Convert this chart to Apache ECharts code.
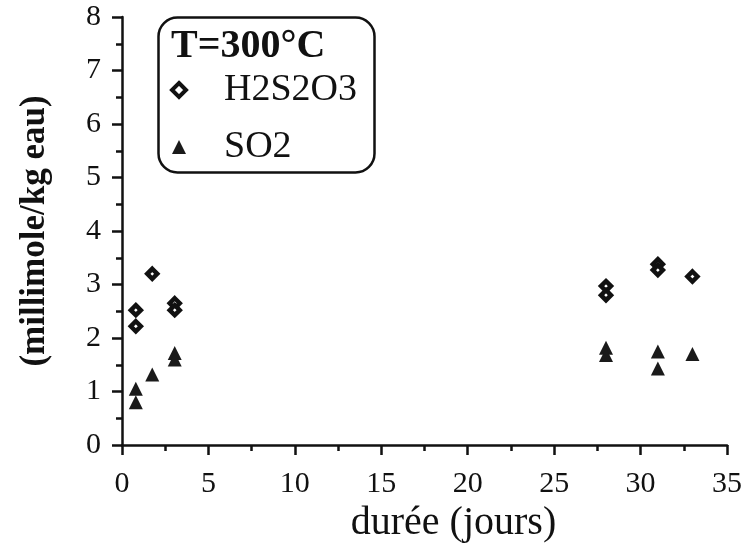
<!DOCTYPE html>
<html><head><meta charset="utf-8">
<script src="https://cdn.jsdelivr.net/npm/echarts@6/dist/echarts.min.js"></script>
<style>html,body{margin:0;padding:0;background:#fff}#c{width:745px;height:553px}</style>
</head><body><div id="c"></div>
<script>
const seriesNames = ['H2S2O3', 'SO2'];
const h2s2o3Days = [0.8, 0.8, 1.75, 3.05, 3.05, 28, 28, 31, 31, 33];
const h2s2o3Vals = [2.52, 2.22, 3.2, 2.65, 2.52, 2.97, 2.8, 3.38, 3.27, 3.15];
const so2Days = [0.8, 0.8, 1.75, 3.05, 3.05, 28, 28, 31, 31, 33];
const so2Vals = [1.05, 0.8, 1.32, 1.72, 1.6, 1.82, 1.68, 1.75, 1.43, 1.7];
const xTicks = [0, 5, 10, 15, 20, 25, 30, 35];
const yTicks = [0, 1, 2, 3, 4, 5, 6, 7, 8];
const legendTitle = 'T=300°C';
const xTitle = 'durée (jours)';
const yTitle = '(millimole/kg eau)';

const font = 'Liberation Serif';
const ink = '#111';
const chart = echarts.init(document.getElementById('c'));
const zip = (a, b) => a.map((v, i) => [v, b[i]]);
chart.setOption({
  backgroundColor: '#fff',
  animation: false,
  grid: {left: 122, right: 17, top: 17, bottom: 108},
  xAxis: {
    type: 'value', min: xTicks[0], max: xTicks[xTicks.length - 1], interval: 5,
    name: xTitle, nameLocation: 'middle', nameGap: 55,
    nameTextStyle: {fontFamily: font, fontSize: 40, color: ink, padding: [0, 0, 0, 58]},
    axisLine: {show: true, onZero: false, lineStyle: {color: ink, width: 2.5}},
    axisTick: {show: true, inside: false, length: 10, lineStyle: {color: ink, width: 2.5}},
    minorTick: {show: true, splitNumber: 2, length: 6, lineStyle: {color: ink, width: 2.5}},
    axisLabel: {fontFamily: font, fontSize: 30, color: ink, margin: 24},
    splitLine: {show: false}
  },
  yAxis: {
    type: 'value', min: yTicks[0], max: yTicks[yTicks.length - 1], interval: 1,
    name: yTitle, nameLocation: 'middle', nameGap: 70, nameRotate: 90,
    nameTextStyle: {fontFamily: font, fontSize: 35, fontWeight: 'bold', color: ink},
    axisLine: {show: true, onZero: false, lineStyle: {color: ink, width: 2.5}},
    axisTick: {show: true, inside: false, length: 10, lineStyle: {color: ink, width: 2.5}},
    minorTick: {show: true, splitNumber: 2, length: 6, lineStyle: {color: ink, width: 2.5}},
    axisLabel: {fontFamily: font, fontSize: 30, color: ink, margin: 21},
    splitLine: {show: false}
  },
  legend: {
    orient: 'vertical', left: 165, top: 60, itemGap: 7,
    itemWidth: 14, itemHeight: 14,
    textStyle: {fontFamily: font, fontSize: 38, lineHeight: 38, color: ink, padding: [12, 0, 0, 33]},
    data: [
      {name: seriesNames[0], icon: 'diamond', itemStyle: {color: '#fff', borderColor: ink, borderWidth: 4}},
      {name: seriesNames[1], icon: 'triangle', itemStyle: {color: '#1a1a1a'}}
    ]
  },
  graphic: [
    {type: 'rect', left: 156, top: 15, shape: {width: 216, height: 155, r: 19},
     style: {fill: 'none', stroke: ink, lineWidth: 2.5}, z: 1},
    {type: 'text', left: 171, top: 27,
     style: {text: legendTitle, fontFamily: font, fontSize: 40, fontWeight: 'bold', fill: ink}}
  ],
  series: [
    {name: seriesNames[0], type: 'scatter', symbol: 'diamond', symbolSize: 10,
     itemStyle: {color: '#fff', borderColor: ink, borderWidth: 4.5, opacity: 1},
     data: zip(h2s2o3Days, h2s2o3Vals)},
    {name: seriesNames[1], type: 'scatter', symbol: 'triangle', symbolSize: 14,
     itemStyle: {color: '#1a1a1a', opacity: 1},
     data: zip(so2Days, so2Vals)}
  ]
});
</script></body></html>
